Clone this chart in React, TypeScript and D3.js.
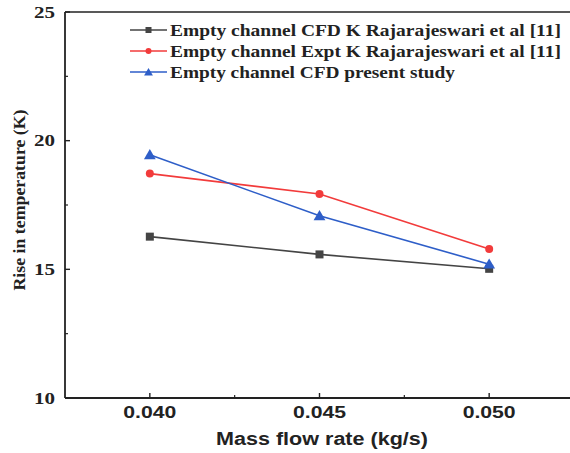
import React from "react";
import * as d3 from "d3";

// Mass flow rate (kg/s)
const flowRates = [0.04, 0.045, 0.05];
// Rise in temperature (K) for each configuration
const cfdRajarajeswari = [16.27, 15.58, 15.02];
const exptRajarajeswari = [18.72, 17.93, 15.79];
const cfdPresent = [19.45, 17.08, 15.2];

const seriesNames = [
  "Empty channel CFD K Rajarajeswari et al [11]",
  "Empty channel Expt K Rajarajeswari et al [11]",
  "Empty channel CFD present study",
];
const xTicks = [0.04, 0.045, 0.05];
const xMinorTicks = [0.0425, 0.0475];
const yTicks = [10, 15, 20, 25];
const yMinorTicks = [12.5, 17.5, 22.5];

const W = 570;
const H = 453;

export default function App() {
  const x = d3.scaleLinear().domain([0.0375, 0.0525]).range([65, 574]);
  const y = d3.scaleLinear().domain([10, 25]).range([398, 12]);

  const series = [
    { name: seriesNames[0], values: cfdRajarajeswari, color: "#444444", marker: "square" },
    { name: seriesNames[1], values: exptRajarajeswari, color: "#f23b3b", marker: "circle" },
    { name: seriesNames[2], values: cfdPresent, color: "#2e5ec8", marker: "triangle" },
  ];

  const line = d3
    .line<[number, number]>()
    .x((d) => x(d[0]))
    .y((d) => y(d[1]));

  const marker = (kind: string, cx: number, cy: number, color: string, s = 1) => {
    if (kind === "square")
      return <rect x={cx - 4 * s} y={cy - 4 * s} width={8 * s} height={8 * s} fill={color} />;
    if (kind === "circle") return <circle cx={cx} cy={cy} r={4 * s} fill={color} />;
    const sym = d3.symbol().type(d3.symbolTriangle).size(60 * s * s)();
    return <path d={sym || ""} transform={`translate(${cx},${cy + 1})`} fill={color} />;
  };

  const x0 = x(0.0375);
  const legendTextLen = [391, 391, 285];
  const legendY = [30, 51, 72];

  return (
    <svg width={W} height={H} style={{ display: "block", position: "absolute", left: 0, top: 0 }}>
      <rect width={W} height={H} fill="#ffffff" />

      {/* frame */}
      <line x1={x0} x2={W} y1={y(25)} y2={y(25)} stroke="#222" strokeWidth={1.6} />
      <line x1={x0} x2={x0} y1={y(25)} y2={y(10)} stroke="#222" strokeWidth={1.8} />
      <line x1={x0} x2={W} y1={y(10)} y2={y(10)} stroke="#222" strokeWidth={1.8} />

      {/* y ticks */}
      {yTicks.map((t) => (
        <g key={"yt" + t}>
          <line x1={x0} x2={x0 + 5} y1={y(t)} y2={y(t)} stroke="#222" strokeWidth={1.4} />
          <text
            x={55}
            y={y(t)}
            dy="0.35em"
            textAnchor="end"
            fontFamily="Liberation Serif, Times New Roman, serif"
            fontWeight="bold"
            fontSize={16}
            textLength={21}
            lengthAdjust="spacingAndGlyphs"
            fill="#222"
          >
            {t}
          </text>
        </g>
      ))}
      {yMinorTicks.map((t) => (
        <line key={"ym" + t} x1={x0} x2={x0 + 3} y1={y(t)} y2={y(t)} stroke="#222" strokeWidth={1.2} />
      ))}

      {/* x ticks */}
      {xTicks.map((t) => (
        <g key={"xt" + t}>
          <line x1={x(t)} x2={x(t)} y1={y(10)} y2={y(10) - 5} stroke="#222" strokeWidth={1.4} />
          <text
            x={x(t)}
            y={418}
            textAnchor="middle"
            fontFamily="Liberation Sans, Arial, sans-serif"
            fontWeight="bold"
            fontSize={16}
            textLength={53}
            lengthAdjust="spacingAndGlyphs"
            fill="#222"
          >
            {t.toFixed(3)}
          </text>
        </g>
      ))}
      {xMinorTicks.map((t) => (
        <line key={"xm" + t} x1={x(t)} x2={x(t)} y1={y(10)} y2={y(10) - 3} stroke="#222" strokeWidth={1.2} />
      ))}

      {/* axis titles */}
      <text
        x={322}
        y={445}
        textAnchor="middle"
        fontFamily="Liberation Sans, Arial, sans-serif"
        fontWeight="bold"
        fontSize={18}
        textLength={212}
        lengthAdjust="spacingAndGlyphs"
        fill="#222"
      >
        Mass flow rate (kg/s)
      </text>
      <text
        transform="translate(25,200) rotate(-90)"
        textAnchor="middle"
        fontFamily="Liberation Serif, Times New Roman, serif"
        fontWeight="bold"
        fontSize={17}
        textLength={181}
        lengthAdjust="spacingAndGlyphs"
        fill="#222"
      >
        Rise in temperature (K)
      </text>

      {/* series */}
      {series.map((s) => {
        const pts = flowRates.map((f, i) => [f, s.values[i]] as [number, number]);
        return (
          <g key={s.name}>
            <path d={line(pts) || ""} fill="none" stroke={s.color} strokeWidth={1.6} />
            {pts.map((p, i) => (
              <g key={i}>{marker(s.marker, x(p[0]), y(p[1]), s.color)}</g>
            ))}
          </g>
        );
      })}

      {/* legend */}
      {series.map((s, i) => (
        <g key={"lg" + i}>
          <line x1={130} x2={167} y1={legendY[i]} y2={legendY[i]} stroke={s.color} strokeWidth={1.6} />
          {marker(s.marker, 148.5, legendY[i], s.color, 0.75)}
          <text
            x={170}
            y={legendY[i]}
            dy="0.35em"
            fontFamily="Liberation Serif, Times New Roman, serif"
            fontWeight="bold"
            fontSize={16}
            textLength={legendTextLen[i]}
            lengthAdjust="spacingAndGlyphs"
            fill="#222"
          >
            {s.name}
          </text>
        </g>
      ))}
    </svg>
  );
}
